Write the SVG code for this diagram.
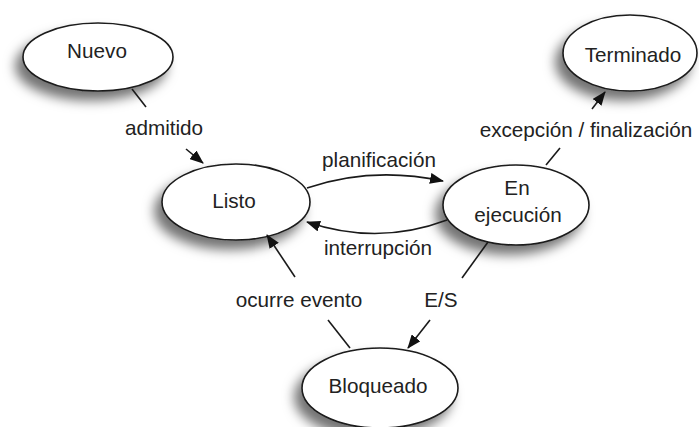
<svg xmlns="http://www.w3.org/2000/svg" width="699" height="427" viewBox="0 0 699 427">
<style>
.node ellipse{fill:#fff;stroke:#1a1a1a;stroke-width:1.6;filter:url(#sh)}
.node text,.lbl{font-family:"Liberation Sans",Arial,sans-serif;font-size:20.7px;fill:#222;text-anchor:middle}
.edge{fill:none;stroke:#1a1a1a;stroke-width:1.6}
</style>
<defs>
<filter id="sh" x="-30%" y="-30%" width="160%" height="170%">
<feDropShadow dx="-7" dy="9" stdDeviation="6" flood-color="#000" flood-opacity="0.55"/>
</filter>
<marker id="ah" viewBox="0 0 14 11" refX="13" refY="5.5" markerWidth="14" markerHeight="11" markerUnits="userSpaceOnUse" orient="auto">
<path d="M0,0 L14,5.5 L0,11 Z" fill="#111"/>
</marker>
</defs>
<g id="nuevo" class="node"><ellipse cx="98" cy="57" rx="75" ry="34"/><text x="97" y="58">Nuevo</text></g>
<g id="terminado" class="node"><ellipse cx="630" cy="53" rx="67" ry="38"/><text x="633" y="62">Terminado</text></g>
<g id="listo" class="node"><ellipse cx="236" cy="202" rx="74" ry="38"/><text x="234" y="208">Listo</text></g>
<g id="ejecucion" class="node"><ellipse cx="516" cy="205" rx="73" ry="40"/><text x="517" y="195">En</text><text x="518" y="222">ejecución</text></g>
<g id="bloqueado" class="node"><ellipse cx="380" cy="388" rx="78" ry="40"/><text x="378" y="393">Bloqueado</text></g>
<g id="connectors">
<path class="edge" d="M132,89 L146,107"/>
<path class="edge" d="M186,149 L203,163" marker-end="url(#ah)"/>
<path class="edge" d="M546,165 L560,148"/>
<path class="edge" d="M592,109 L605,92" marker-end="url(#ah)"/>
<path class="edge" d="M307,188 Q372,166 443,181" marker-end="url(#ah)"/>
<path class="edge" d="M447,220 Q378,246 307,222" marker-end="url(#ah)"/>
<path class="edge" d="M350,348 L328,320"/>
<path class="edge" d="M295,277 L267,235" marker-end="url(#ah)"/>
<path class="edge" d="M488,242 L462,278"/>
<path class="edge" d="M430,320 L408,348" marker-end="url(#ah)"/>
<text class="lbl" x="164" y="135">admitido</text>
<text class="lbl" x="586" y="137">excepción / finalización</text>
<text class="lbl" x="379" y="167">planificación</text>
<text class="lbl" x="378" y="255">interrupción</text>
<text class="lbl" x="299" y="307">ocurre evento</text>
<text class="lbl" x="441" y="307">E/S</text>
</g>
</svg>
